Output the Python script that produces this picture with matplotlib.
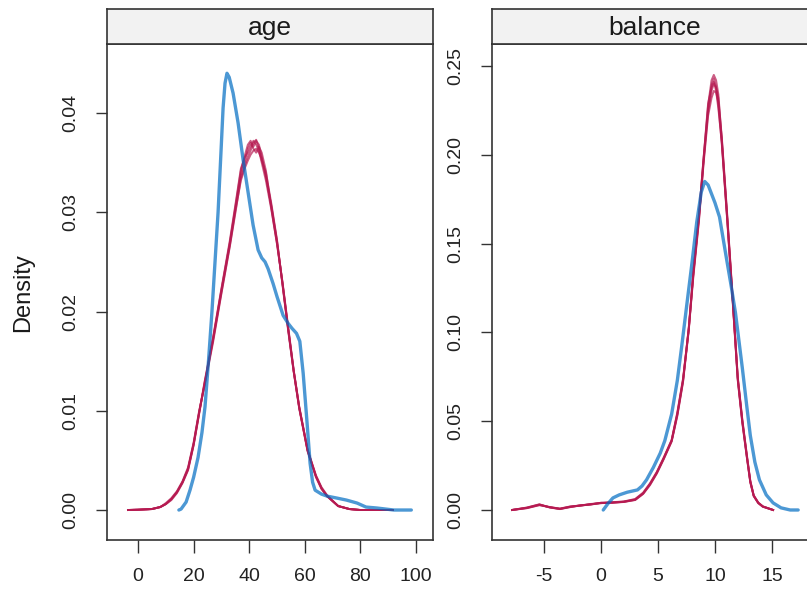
import matplotlib.pyplot as plt

plt.rcParams['font.family'] = ['Liberation Sans', 'DejaVu Sans']

OBS = '#006CC2'
IMP = '#B61A51'

# ---- age panel ----
age_obs_x = [14.7, 15.5, 17.3, 18.7, 20.0, 21.6, 23.0, 24.1, 25.3, 26.6, 27.7, 28.8, 29.8,
             30.6, 31.3, 32.0, 32.8, 34.2, 36.0, 37.8, 39.6, 41.4, 43.2, 44.5, 45.7, 46.8,
             48.6, 50.0, 52.2, 54.0, 55.4, 57.0, 58.2, 59.4, 60.8, 61.9, 62.8, 63.7, 66.0,
             68.0, 71.6, 75.0, 78.8, 82.0, 86.0, 92.0, 98.3]
age_obs_y = [0.0, 0.0001, 0.0008, 0.0020, 0.0033, 0.0053, 0.0078, 0.0104, 0.0148, 0.0200,
             0.0250, 0.0300, 0.0358, 0.0405, 0.0430, 0.0440, 0.0436, 0.0420, 0.0390, 0.0353,
             0.0320, 0.0287, 0.0262, 0.0254, 0.0250, 0.0243, 0.0228, 0.0215, 0.0196, 0.0188,
             0.0183, 0.0178, 0.0170, 0.0138, 0.0088, 0.0047, 0.0028, 0.0020, 0.0016, 0.0014,
             0.0012, 0.0010, 0.0007, 0.0003, 0.0002, 0.0, 0.0]

age_imp_x = [-3.6, 0, 5, 8, 10, 12, 14, 16, 18, 20, 22, 24, 27, 30, 33, 35, 37, 38.5, 39.5,
             40.5, 41.5, 42.5, 43.5, 44.5, 46, 48, 50, 52, 54, 56, 58, 61, 64, 66, 68, 72,
             76, 80, 86, 91.7]
age_imp_1 = [0, 0.00003, 0.0001, 0.0003, 0.0006, 0.0011, 0.0018, 0.0028, 0.0041, 0.0066,
             0.0098, 0.0128, 0.0172, 0.0221, 0.0269, 0.0305, 0.0342, 0.0358, 0.0368, 0.0372,
             0.0366, 0.0372, 0.0368, 0.0356, 0.0336, 0.0305, 0.0270, 0.0228, 0.0183, 0.0140,
             0.0103, 0.0060, 0.0034, 0.0022, 0.0014, 0.0004, 0.0001, 0.0, 0.0, 0.0]
age_imp_2 = [0, 0.00003, 0.0001, 0.0003, 0.0007, 0.0012, 0.0019, 0.0029, 0.0043, 0.0068,
             0.0100, 0.0126, 0.0169, 0.0218, 0.0265, 0.0299, 0.0334, 0.0348, 0.0356, 0.0362,
             0.0370, 0.0373, 0.0364, 0.0352, 0.0340, 0.0308, 0.0272, 0.0226, 0.0181, 0.0139,
             0.0102, 0.0059, 0.0033, 0.0021, 0.0014, 0.0004, 0.0001, 0.0, 0.0, 0.0]
age_imp_3 = [0, 0.00003, 0.0001, 0.0003, 0.0006, 0.0010, 0.0017, 0.0027, 0.0040, 0.0065,
             0.0097, 0.0129, 0.0173, 0.0222, 0.0268, 0.0303, 0.0338, 0.0352, 0.0364, 0.0370,
             0.0364, 0.0360, 0.0366, 0.0360, 0.0342, 0.0303, 0.0268, 0.0229, 0.0185, 0.0141,
             0.0104, 0.0061, 0.0035, 0.0023, 0.0015, 0.0004, 0.0001, 0.0, 0.0, 0.0]
age_imp_4 = [0, 0.00003, 0.0001, 0.0003, 0.0006, 0.0011, 0.0018, 0.0028, 0.0042, 0.0067,
             0.0099, 0.0127, 0.0171, 0.0219, 0.0266, 0.0301, 0.0332, 0.0345, 0.0352, 0.0358,
             0.0362, 0.0364, 0.0360, 0.0354, 0.0336, 0.0306, 0.0271, 0.0227, 0.0182, 0.0140,
             0.0103, 0.0060, 0.0034, 0.0022, 0.0014, 0.0004, 0.0001, 0.0, 0.0, 0.0]
age_imp_5 = [0, 0.00003, 0.0001, 0.0003, 0.0006, 0.0011, 0.0018, 0.0028, 0.0041, 0.0066,
             0.0098, 0.0130, 0.0174, 0.0223, 0.0271, 0.0307, 0.0344, 0.0356, 0.0360, 0.0366,
             0.0372, 0.0368, 0.0362, 0.0350, 0.0332, 0.0302, 0.0268, 0.0228, 0.0183, 0.0140,
             0.0103, 0.0060, 0.0034, 0.0022, 0.0014, 0.0004, 0.0001, 0.0, 0.0, 0.0]

# ---- balance panel ----
bal_obs_x = [0.2, 0.6, 1.05, 1.6, 2.3, 3.2, 3.6, 4.0, 4.6, 5.2, 5.6, 6.2, 6.7, 7.1, 7.5,
             8.0, 8.4, 8.8, 9.1, 9.4, 9.7, 10.0, 10.4, 11.0, 11.4, 11.8, 12.4, 12.8, 13.1,
             13.5, 13.9, 14.5, 15.1, 15.8, 16.6, 17.3]
bal_obs_y = [0.0, 0.0035, 0.0068, 0.0085, 0.0100, 0.0113, 0.0135, 0.0170, 0.0240, 0.0320,
             0.0390, 0.0540, 0.0730, 0.0930, 0.1140, 0.1400, 0.1620, 0.1790, 0.1850, 0.1830,
             0.1780, 0.1730, 0.1650, 0.1420, 0.1270, 0.1110, 0.0800, 0.0580, 0.0420, 0.0270,
             0.0170, 0.0085, 0.0040, 0.0012, 0.0, 0.0]

bal_imp_x = [-7.8, -6.5, -5.4, -4.5, -3.6, -2.7, -1.8, -0.9, 0, 1, 2, 3, 3.7, 4.3, 4.9, 5.5,
             6.2, 6.7, 7.2, 7.7, 8.1, 8.6, 9.0, 9.4, 9.7, 9.9, 10.1, 10.3, 10.6, 11.1, 11.6,
             12.0, 12.4, 12.8, 13.1, 13.4, 13.8, 14.2, 15.1]
bal_imp_1 = [0, 0.0012, 0.0030, 0.0015, 0.0006, 0.0018, 0.0025, 0.0032, 0.0040, 0.0042,
             0.0046, 0.0058, 0.0093, 0.0145, 0.0210, 0.0290, 0.0390, 0.0540, 0.0730, 0.1020,
             0.1330, 0.1650, 0.1970, 0.2280, 0.2420, 0.2450, 0.2420, 0.2340, 0.2080, 0.1620,
             0.1140, 0.0740, 0.0500, 0.0300, 0.0160, 0.0080, 0.0040, 0.0020, 0]
bal_imp_2 = [0, 0.0010, 0.0027, 0.0016, 0.0008, 0.0020, 0.0024, 0.0034, 0.0038, 0.0044,
             0.0048, 0.0062, 0.0098, 0.0150, 0.0215, 0.0295, 0.0395, 0.0550, 0.0740, 0.1020,
             0.1320, 0.1640, 0.1960, 0.2240, 0.2360, 0.2400, 0.2380, 0.2320, 0.2100, 0.1640,
             0.1150, 0.0750, 0.0510, 0.0310, 0.0165, 0.0083, 0.0042, 0.0020, 0]
bal_imp_3 = [0, 0.0014, 0.0032, 0.0014, 0.0005, 0.0016, 0.0027, 0.0030, 0.0041, 0.0040,
             0.0045, 0.0056, 0.0090, 0.0140, 0.0205, 0.0285, 0.0385, 0.0530, 0.0720, 0.1010,
             0.1340, 0.1660, 0.1980, 0.2260, 0.2390, 0.2430, 0.2380, 0.2280, 0.2060, 0.1610,
             0.1130, 0.0730, 0.0490, 0.0295, 0.0155, 0.0078, 0.0038, 0.0018, 0]
bal_imp_4 = [0, 0.0011, 0.0028, 0.0017, 0.0007, 0.0019, 0.0026, 0.0033, 0.0039, 0.0043,
             0.0047, 0.0060, 0.0095, 0.0148, 0.0212, 0.0292, 0.0392, 0.0545, 0.0735, 0.1015,
             0.1310, 0.1630, 0.1950, 0.2220, 0.2320, 0.2360, 0.2350, 0.2300, 0.2090, 0.1630,
             0.1145, 0.0745, 0.0505, 0.0305, 0.0162, 0.0081, 0.0041, 0.0020, 0]
bal_imp_5 = [0, 0.0013, 0.0031, 0.0015, 0.0006, 0.0017, 0.0025, 0.0031, 0.0040, 0.0041,
             0.0046, 0.0057, 0.0092, 0.0143, 0.0208, 0.0288, 0.0388, 0.0535, 0.0725, 0.1025,
             0.1335, 0.1660, 0.1980, 0.2290, 0.2380, 0.2410, 0.2360, 0.2260, 0.2070, 0.1615,
             0.1135, 0.0735, 0.0495, 0.0298, 0.0158, 0.0079, 0.0039, 0.0019, 0]

panels = [
    ('age', age_obs_x, age_obs_y, age_imp_x,
     [age_imp_1, age_imp_2, age_imp_3, age_imp_4, age_imp_5],
     (-11.15, 106.1), (-0.00302, 0.04695), [0, 20, 40, 60, 80, 100],
     [0.00, 0.01, 0.02, 0.03, 0.04], ['0.00', '0.01', '0.02', '0.03', '0.04'], 107),
    ('balance', bal_obs_x, bal_obs_y, bal_imp_x,
     [bal_imp_1, bal_imp_2, bal_imp_3, bal_imp_4, bal_imp_5],
     (-9.56, 19.04), (-0.0169, 0.2624), [-5, 0, 5, 10, 15],
     [0.00, 0.05, 0.10, 0.15, 0.20, 0.25],
     ['0.00', '0.05', '0.10', '0.15', '0.20', '0.25'], 492),
]

W, H = 807, 593
fig = plt.figure(figsize=(W / 100, H / 100), dpi=100)

for (name, ox, oy, ix, imps, xlim, ylim, xt, yt, ytl, left) in panels:
    ax = fig.add_axes([left / W, (H - 540) / H, 326 / W, (540 - 44) / H])
    for iy in imps:
        ax.plot(ix, iy, color=IMP, alpha=0.7, lw=1.4, solid_joinstyle='round')
    ax.plot(ox, oy, color=OBS, alpha=0.7, lw=2.4, solid_joinstyle='round',
            solid_capstyle='round')
    ax.set_xlim(*xlim)
    ax.set_ylim(*ylim)
    ax.set_xticks(xt)
    ax.set_xticklabels([str(v) for v in xt])
    ax.set_yticks(yt)
    ax.set_yticklabels(ytl, rotation=90, va='center')
    ax.tick_params(axis='both', labelsize=14, color='#333333', labelcolor='#222222',
                   width=1.0)
    ax.tick_params(axis='x', length=9, pad=11)
    ax.tick_params(axis='y', length=8, pad=12)
    for s in ax.spines.values():
        s.set_color('#333333')
        s.set_linewidth(1.2)

    strip = fig.add_axes([left / W, (H - 44) / H, 326 / W, 35 / H])
    strip.set_facecolor('#F2F2F2')
    strip.set_xticks([])
    strip.set_yticks([])
    for s in strip.spines.values():
        s.set_color('#333333')
        s.set_linewidth(1.2)
    strip.text(0.5, 0.45, name, ha='center', va='center', fontsize=19,
               color='#1a1a1a', transform=strip.transAxes)

fig.text(23 / W, 1 - 293 / H, 'Density', rotation=90, ha='center', va='center',
         fontsize=17, color='#1a1a1a')

fig.savefig('out.png', dpi=100)
